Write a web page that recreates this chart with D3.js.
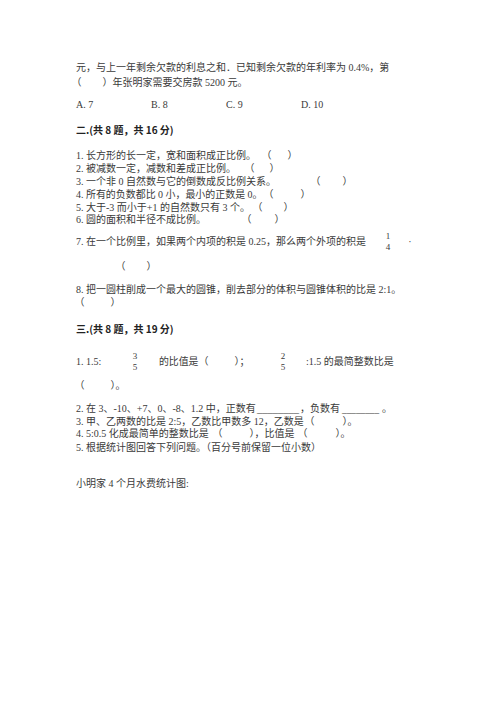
<!DOCTYPE html>
<html>
  <head>
    <meta charset="utf-8" />
    <title>试卷</title>
    <script type="text/javascript" src="https://d3js.org/d3.v7.min.js"></script>
    <style>
      body { margin: 0; background: #fff; }
    </style>
  </head>
  <body>
    <div id="page"></div>
    <script>
// ---- text content ----
const introLines = [
  "元，与上一年剩余欠款的利息之和．已知剩余欠款的年利率为 0.4%，第",
  "年张明家需要交房款 5200 元。"
];
const choiceLabels = ["A. 7", "B. 8", "C. 9", "D. 10"];
const sectionTitles = ["二.(共 8 题，共 16 分)", "三.(共 8 题，共 19 分)"];
const judgeItems = [
  "1. 长方形的长一定，宽和面积成正比例。",
  "2. 被减数一定，减数和差成正比例。",
  "3. 一个非 0 自然数与它的倒数成反比例关系。",
  "4. 所有的负数都比 0 小，最小的正数是 0。",
  "5. 大于-3 而小于+1 的自然数只有 3 个。",
  "6. 圆的面积和半径不成比例。",
  "7. 在一个比例里，如果两个内项的积是 0.25，那么两个外项的积是",
  "8. 把一圆柱削成一个最大的圆锥，削去部分的体积与圆锥体积的比是 2:1。"
];
const fillParts = [
  ["1. 1.5:", "的比值是", "；", ":1.5 的最简整数比是", "。"],
  ["2. 在 3、-10、+7、0、-8、1.2 中，正数有", "，负数有", "。"],
  ["3. 甲、乙两数的比是 2:5，乙数比甲数多 12，乙数是", "。"],
  ["4. 5:0.5 化成最简单的整数比是", "，比值是", "。"],
  ["5. 根据统计图回答下列问题。（百分号前保留一位小数）"]
];
const fractions = [[1, 4], [3, 5], [2, 5]];
const caption = "小明家 4 个月水费统计图:";

// ---- layout ----
const W = 500, H = 707;
const left = 76;
const bodyFont = "'Liberation Serif', 'Noto Sans CJK SC', serif";
const headFont = "'Noto Sans CJK SC', sans-serif";
const ink = "#3a3a3a";

const svg = d3.select("#page").append("svg")
  .attr("width", W).attr("height", H)
  .style("display", "block");
svg.append("rect").attr("width", W).attr("height", H).attr("fill", "#fff");

const g = svg.append("g")
  .attr("font-family", bodyFont)
  .attr("font-size", 10)
  .attr("fill", ink);

function txt(x, y, s, opts) {
  opts = opts || {};
  const t = g.append("text")
    .attr("x", x).attr("y", y)
    .attr("dominant-baseline", "central")
    .text(s);
  if (opts.anchor) t.attr("text-anchor", opts.anchor);
  if (opts.bold) t.attr("font-weight", 700).attr("font-family", headFont).attr("fill", "#222");
  if (opts.size) t.attr("font-size", opts.size);
  if (opts.len) t.attr("textLength", opts.len).attr("lengthAdjust", "spacingAndGlyphs");
  // squeeze a run that would run into the next piece
  if (opts.max) {
    const w = t.node().getComputedTextLength();
    if (w > opts.max) t.attr("textLength", opts.max).attr("lengthAdjust", "spacingAndGlyphs");
  }
  return t;
}
// full-width brackets, placed by the visible glyph centre
const openX = cx => cx - 7.5;
function openB(cx, y) { return txt(openX(cx), y, "（"); }
function closeB(cx, y, after) { return txt(cx - 2.5, y, "）" + (after || "")); }
function frac(cx, y, f) {
  txt(cx, y - 5.5, String(f[0]), { anchor: "middle", size: 9 });
  txt(cx, y + 6, String(f[1]), { anchor: "middle", size: 9 });
}

// intro
txt(left, 67, introLines[0]);
openB(79, 82);
closeB(105, 82, introLines[1]);

// choices
const xChoice = d3.scaleLinear().domain([0, choiceLabels.length - 1]).range([left, 301]);
choiceLabels.forEach((c, i) => txt(xChoice(i), 104, c));

// section two
txt(left, 129, sectionTitles[0], { bold: true });
const judgeY = [155, 168, 181, 194, 207, 219, 241, 289];
const judgeBlank = [[269, 290], [252, 272], [318, 345], [271, 303], [260, 286], [249, 277]];
judgeItems.forEach((s, i) => {
  const b = judgeBlank[i];
  txt(left, judgeY[i], s, b ? { max: openX(b[0]) - left - 1 } : {});
  if (b) {
    openB(b[0], judgeY[i]);
    closeB(b[1], judgeY[i]);
  }
});
frac(388, 241, fractions[0]);
txt(410, 241, "·", { anchor: "middle" });
openB(123, 266); closeB(149, 266);
openB(82, 302); closeB(113, 302);

// section three
txt(left, 328, sectionTitles[1], { bold: true });
const f1 = fillParts[0];
txt(left, 361, f1[0]);
frac(135, 361, fractions[1]);
txt(159, 361, f1[1], { max: openX(206) - 159 });
openB(206, 361); closeB(237, 361, f1[2]);
frac(283, 361, fractions[2]);
txt(306, 361, f1[3]);
openB(82, 385); closeB(113, 385, f1[4]);

const f2 = fillParts[1];
txt(left, 408, f2[0], { max: 256 - left });
txt(257, 408, "________", { len: 42 });
txt(300, 408, f2[1]);
txt(342, 408, "________", { len: 37 });
txt(382, 408, f2[2]);

const f3 = fillParts[2];
txt(left, 421, f3[0], { max: openX(312) - left });
openB(312, 421); closeB(345, 421, f3[1]);

const f4 = fillParts[3];
txt(left, 433, f4[0], { max: openX(220) - left });
openB(220, 433); closeB(252, 433, f4[1]);
openB(305, 433); closeB(338, 433, f4[2]);

txt(left, 447, fillParts[4][0]);

txt(left, 483, caption);
    </script>
  </body>
</html>
